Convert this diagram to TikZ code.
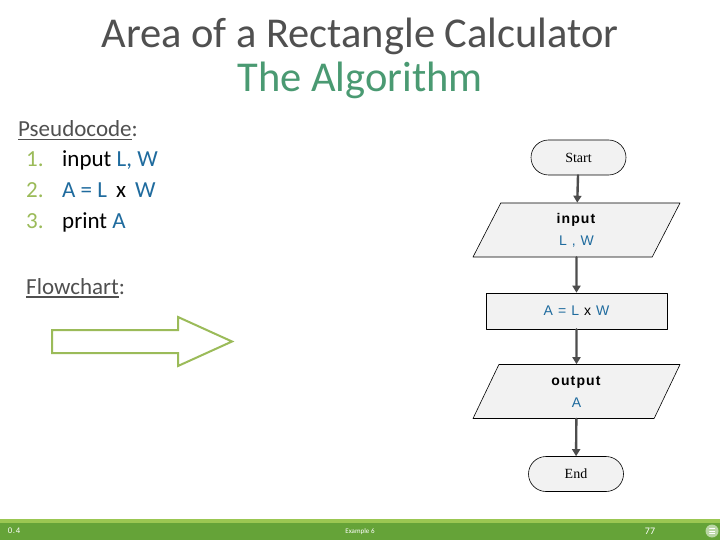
\documentclass[tikz,border=0pt]{standalone}
\usepackage{fontspec}
\usepackage{xcolor}
\setmainfont{Carlito}
\newfontfamily\boxsans[LetterSpace=8]{Liberation Sans}
\newfontfamily\boxserif{Liberation Serif}
\usepackage{tikz}
\usetikzlibrary{arrows.meta,positioning,shapes.geometric}
\definecolor{titlegrey}{HTML}{505050}
\definecolor{algogreen}{HTML}{4A9A72}
\definecolor{listgreen}{HTML}{9BBB59}
\definecolor{varblue}{HTML}{1F6B9E}
\definecolor{boxfill}{HTML}{F2F2F2}
\definecolor{linkgrey}{HTML}{4D4D4D}
\definecolor{barlight}{HTML}{9BC752}
\definecolor{bardark}{HTML}{65A338}
\newcommand\ulined[1]{\setbox0\hbox{#1}\rlap{\color{titlegrey}\rule[-3.5pt]{\wd0}{1.8pt}}\box0}
\newcommand\vb[1]{\textcolor{varblue}{#1}}
\tikzset{
  every picture/.append style={line cap=round,line join=round},
  calc title/.style={font=\fontsize{42.5}{46}\selectfont,text=titlegrey,inner sep=0pt,anchor=base},
  calc text/.style={font=\fontsize{23}{27}\selectfont,inner sep=0pt,anchor=base west},
  calc num/.style={calc text,text=listgreen},
  calc terminal/.style={draw=black,line width=0.6pt,fill=boxfill,rounded corners=17.5pt,
    minimum width=95pt,minimum height=35pt,font=\boxserif\fontsize{14}{16}\selectfont},
  calc io/.style={draw=black,line width=0.6pt,fill=boxfill,trapezium,
    trapezium left angle=55.6,trapezium right angle=124.4,trapezium stretches body,
    minimum width=207pt,minimum height=54pt,inner xsep=0pt,align=center,
    font=\boxsans\fontsize{14}{22}\selectfont},
  calc process/.style={draw=black,line width=0.6pt,fill=boxfill,minimum width=181pt,
    minimum height=36pt,font=\boxsans\fontsize{14}{16}\selectfont},
  calc link/.style={linkgrey,line width=2.4pt,-{Triangle[length=7pt,width=8pt]}},
  calc hollow/.style={listgreen,line width=2pt,line join=miter},
  calc foot/.style={text=white,inner sep=0pt,anchor=base}
}
\begin{document}
\begin{tikzpicture}[x=1pt,y=-1pt,>=Stealth]
\useasboundingbox (0,0) rectangle (720,540);
\fill[white] (0,0) rectangle (720,540);
\node[calc title] (title) at (360,48) {Area of a Rectangle Calculator};
\node[calc title,text=algogreen] (subtitle) at (360,92) {The Algorithm};
\node[calc text,text=titlegrey] (pseudo) at (18,137) {\ulined{Pseudocode}:};
\node[calc num] (n1) at (26,167) {1.};
\node[calc num] (n2) at (26,198) {2.};
\node[calc num] (n3) at (26,229) {3.};
\node[calc text] (s1) at (62,167) {input \vb{L, W}};
\node[calc text] (s2) at (62,198) {\vb{A = L}\, x\, \vb{W}};
\node[calc text] (s3) at (62,229) {print \vb{A}};
\node[calc text,text=titlegrey] (flow) at (26,294) {\ulined{Flowchart}:};
\draw[calc hollow] (52,330) -- (178,330) -- (178,317) -- (232,341.5) -- (178,366)
  -- (178,353) -- (52,353) -- cycle;
\node[calc terminal] (start) at (578.5,157.5) {Start};
\node[calc io] (input) at (576.5,230) {\textbf{input}\\\vb{L , W}};
\node[calc process] (area) at (576.5,311) {\vb{A = L} x \vb{W}};
\node[calc io] (output) at (576.5,391.5) {\textbf{output}\\\vb{A}};
\node[calc terminal] (end) at (576,474) {End};
\draw[calc link] (start) -- (input);
\draw[calc link] (input) -- (area);
\draw[calc link] (area) -- (output);
\draw[calc link] (output) -- (end);
\fill[bardark] (0,523) rectangle (720,540);
\fill[barlight] (0,518.5) rectangle (720,523);
\node[calc foot,font=\boxsans\fontsize{8}{9}\selectfont] (slide) at (14,533.5) {0.4};
\node[calc foot,font=\fontsize{7}{8}\selectfont] (caption) at (360,533) {Example 6};
\node[calc foot,font=\fontsize{10}{11}\selectfont] (page) at (650,534) {77};
\fill[white!55!bardark] (712,531) circle (6.5pt);
\foreach \yy in {528.5,531,533.5}
  \draw[white,line width=1pt] (709.5,\yy) -- (714.5,\yy);
\end{tikzpicture}
\end{document}
